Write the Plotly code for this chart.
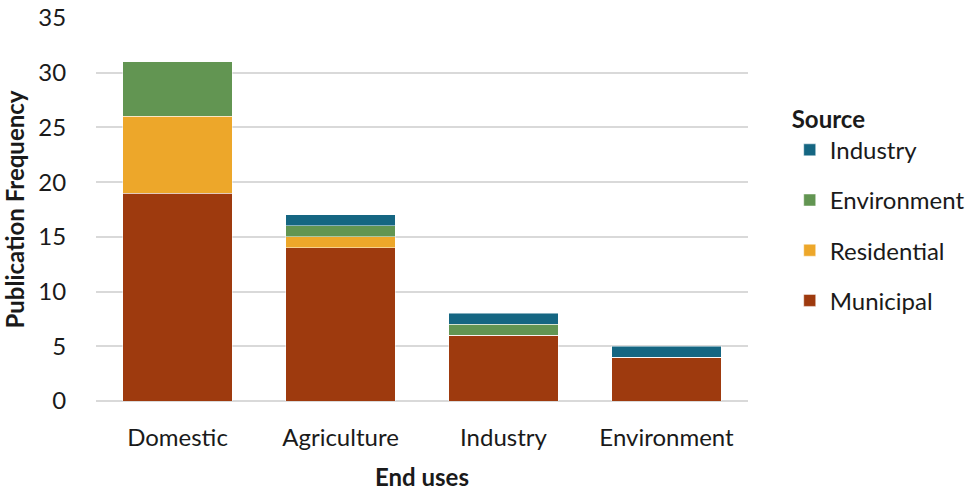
import plotly.graph_objects as go

# Publication counts by end use, split by water source
end_uses = ["Domestic", "Agriculture", "Industry", "Environment"]
municipal = [19, 14, 6, 4]
residential = [7, 1, 0, 0]
environment = [5, 1, 1, 0]
industry = [0, 1, 1, 1]

y_ticks = [0, 5, 10, 15, 20, 25, 30, 35]

# (name, values, colour, legend position from the top)
series = [
    ("Municipal", municipal, "#9E3A0E", 4),
    ("Residential", residential, "#EDA72A", 3),
    ("Environment", environment, "#629552", 2),
    ("Industry", industry, "#156682", 1),
]

FONT = "Lato, Calibri, 'Noto Sans', sans-serif"
TEXT = "#1a1a1a"

fig = go.Figure()
for name, vals, color, rank in series:
    fig.add_trace(go.Bar(
        x=end_uses, y=vals, name=name, legendgroup=name, legendrank=rank,
        marker=dict(color=color, line=dict(color="rgba(255,255,255,0.6)", width=0.8)),
    ))

fig.update_layout(
    barmode="stack",
    bargap=0.33,
    width=975, height=491,
    margin=dict(l=96, r=227, t=18, b=90, autoexpand=False),
    plot_bgcolor="white", paper_bgcolor="white",
    font=dict(family=FONT, size=24, color=TEXT),
    legend=dict(
        title=dict(text="<b>Source</b>", font=dict(size=24, color=TEXT)),
        traceorder="grouped",
        tracegroupgap=16,
        x=1.064, xanchor="left", y=0.795, yanchor="top",
        font=dict(size=24, color=TEXT),
        itemwidth=30,
    ),
    xaxis=dict(
        title=dict(text="<b>End uses</b>", font=dict(size=24), standoff=20),
        showgrid=False, showline=False,
        ticks="outside", ticklen=15, tickcolor="white",
        tickfont=dict(size=24),
        automargin=False,
    ),
    yaxis=dict(
        title=dict(text="<b>Publication Frequency</b>", font=dict(size=24), standoff=6),
        range=[0, 35], tickvals=y_ticks,
        showgrid=True, gridcolor="#d9d9d9", gridwidth=1.5,
        zeroline=True, zerolinecolor="#d9d9d9", zerolinewidth=1.5,
        showline=False, ticks="outside", ticklen=24, tickcolor="white",
        tickfont=dict(size=24),
        automargin=False,
    ),
)

fig.write_html("out.html")
